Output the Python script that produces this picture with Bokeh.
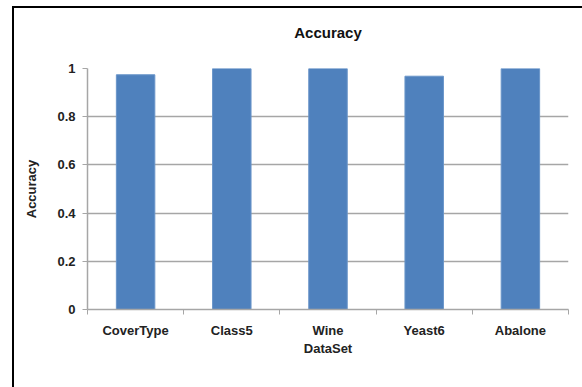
from bokeh.plotting import figure
from bokeh.models import FixedTicker, Range1d
from bokeh.embed import file_html
from bokeh.resources import INLINE

categories = ["CoverType", "Class5", "Wine", "Yeast6", "Abalone"]
accuracy = [0.974, 1.0, 1.0, 0.968, 1.0]
y_ticks = [0, 0.2, 0.4, 0.6, 0.8, 1.0]

FONT = "Liberation Sans"
GRID = "#a6a6a6"
BAR = "#4f81bd"
TXT = "#222222"

xs = [i + 0.5 for i in range(len(categories))]

p = figure(width=570, height=381, output_backend="svg", toolbar_location=None,
           title="Accuracy\n",
           x_range=Range1d(0, len(categories)), y_range=Range1d(0, 1),
           min_border_left=73, min_border_right=16, min_border_top=60, min_border_bottom=80,
           margin=(6, 0, 0, 12),
           styles={"border-left": "2px solid black", "border-top": "2px solid black"})
p.outline_line_color = None
p.background_fill_color = "white"
p.border_fill_color = "white"

p.title.align = "center"
p.title.text_font = FONT
p.title.text_font_style = "bold"
p.title.text_font_size = "15px"
p.title.text_color = "#111111"
p.title.text_line_height = 1.3

p.vbar(x=xs, top=accuracy, width=0.4, fill_color=BAR, line_color="#6a95c9", line_width=1)

# x axis
p.xaxis.ticker = FixedTicker(ticks=xs, minor_ticks=list(range(len(categories) + 1)))
p.xaxis.major_label_overrides = {x: c for x, c in zip(xs, categories)}
p.xaxis.major_tick_line_color = None
p.xaxis.major_tick_in = 0
p.xaxis.major_tick_out = 0
p.xaxis.minor_tick_line_color = GRID
p.xaxis.minor_tick_in = 0
p.xaxis.minor_tick_out = 5
p.xaxis.axis_line_color = GRID
p.xaxis.axis_line_width = 1.5
p.xaxis.major_label_text_font = FONT
p.xaxis.major_label_text_font_style = "bold"
p.xaxis.major_label_text_font_size = "13px"
p.xaxis.major_label_text_color = TXT
p.xaxis.major_label_standoff = 8
p.xaxis.axis_label = "DataSet"
p.xaxis.axis_label_text_font = FONT
p.xaxis.axis_label_text_font_style = "bold"
p.xaxis.axis_label_text_font_size = "13px"
p.xaxis.axis_label_text_color = TXT
p.xaxis.axis_label_standoff = 0

# y axis
p.yaxis.ticker = FixedTicker(ticks=y_ticks)
p.yaxis.major_label_overrides = {0: "0", 1: "1"}
p.yaxis.minor_tick_line_color = None
p.yaxis.major_tick_line_color = GRID
p.yaxis.major_tick_in = 0
p.yaxis.major_tick_out = 5
p.yaxis.axis_line_color = GRID
p.yaxis.axis_line_width = 1.5
p.yaxis.major_label_text_font = FONT
p.yaxis.major_label_text_font_style = "bold"
p.yaxis.major_label_text_font_size = "13px"
p.yaxis.major_label_text_color = TXT
p.yaxis.major_label_standoff = 7
p.yaxis.axis_label = "Accuracy"
p.yaxis.axis_label_text_font = FONT
p.yaxis.axis_label_text_font_style = "bold"
p.yaxis.axis_label_text_font_size = "13px"
p.yaxis.axis_label_text_color = TXT
p.yaxis.axis_label_standoff = 15

p.xgrid.grid_line_color = None
p.ygrid.ticker = FixedTicker(ticks=y_ticks)
p.ygrid.grid_line_color = GRID
p.ygrid.grid_line_width = 1.5

open("out.html", "w").write(file_html(p, INLINE))
